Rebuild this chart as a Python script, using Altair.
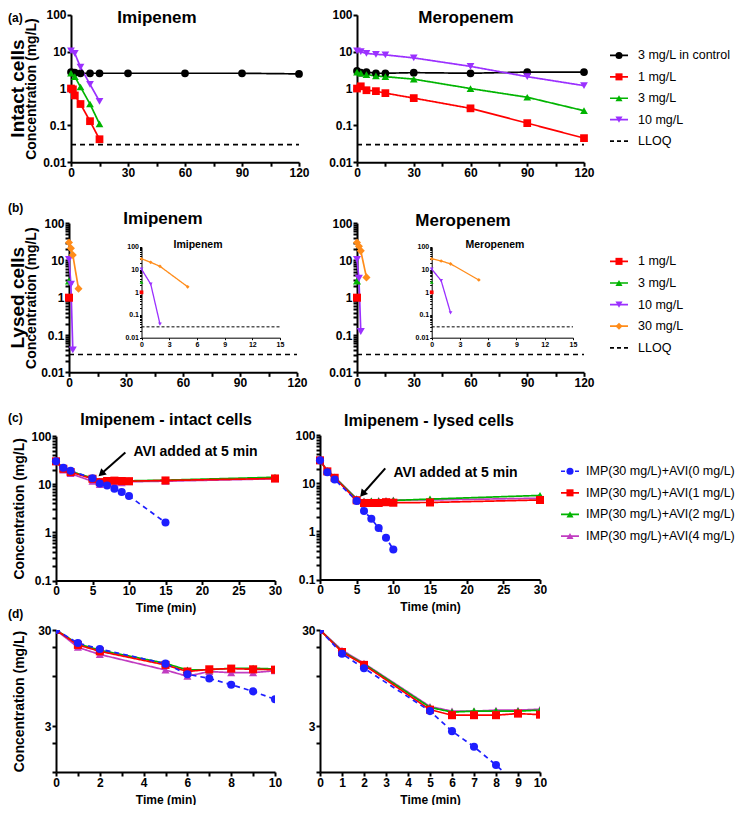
import altair as alt
import pandas as pd

FONT = "Liberation Sans"

# ---------------- (a) intact cells ----------------
A_IMP_CTRL_T = [0, 1, 2, 5, 10, 15, 30, 60, 90, 120]
A_IMP_CTRL_V = [2.8, 2.7, 2.7, 2.6, 2.6, 2.6, 2.6, 2.6, 2.6, 2.5]
A_IMP_1_T = [0, 1, 2, 5, 10, 15]
A_IMP_1_V = [1.0, 0.95, 0.65, 0.38, 0.13, 0.042]
A_IMP_3_T = [0, 2, 5, 10, 15]
A_IMP_3_V = [2.6, 2.1, 1.1, 0.38, 0.11]
A_IMP_10_T = [0, 2, 5, 10, 15]
A_IMP_10_V = [10.5, 9.0, 3.8, 1.3, 0.45]

A_MER_T = [0, 2, 5, 10, 15, 30, 60, 90, 120]
A_MER_CTRL_V = [3.0, 2.7, 2.8, 2.6, 2.6, 2.7, 2.6, 2.8, 2.8]
A_MER_1_V = [1.0, 1.15, 0.9, 0.85, 0.75, 0.55, 0.29, 0.115, 0.045]
A_MER_3_V = [2.8, 2.6, 2.4, 2.2, 2.1, 1.8, 1.0, 0.58, 0.25]
A_MER_10_V = [10.5, 10.0, 9.0, 8.5, 8.2, 6.8, 4.0, 2.1, 1.2]

# ---------------- (b) lysed cells ----------------
B_IMP_1_T, B_IMP_1_V = [0], [1.0]
B_IMP_3_T, B_IMP_3_V = [0], [2.8]
B_IMP_10_T, B_IMP_10_V = [0, 1, 2], [10.5, 2.3, 0.04]
B_IMP_30_T, B_IMP_30_V = [0, 1, 2, 5], [30.0, 21.0, 14.0, 1.75]
B_MER_1_T, B_MER_1_V = [0], [1.0]
B_MER_3_T, B_MER_3_V = [0], [2.8]
B_MER_10_T, B_MER_10_V = [0, 1, 2], [10.5, 3.3, 0.125]
B_MER_30_T, B_MER_30_V = [0, 1, 2, 5], [30.0, 24.0, 18.0, 3.5]

LLOQ = 0.03

# ---------------- (c)/(d) imipenem + avibactam ----------------
C_T = [0, 1, 2, 5, 6, 7, 8, 9, 10, 15, 30]
C_INT_AVI0_T = [0, 1, 2, 5, 6, 7, 8, 9, 10, 15]
C_INT_AVI0 = [30, 22, 19, 13.4, 10.4, 9.4, 8.1, 6.9, 5.7, 1.6]
C_INT_AVI1 = [30, 21, 18, 13, 11.1, 11.7, 11.9, 11.7, 11.6, 12.0, 13.2]
C_INT_AVI2 = [30, 21.5, 18.5, 13.5, 11.5, 11.6, 12.0, 12.0, 11.8, 12.2, 14.0]
C_INT_AVI4 = [30, 19.8, 16.7, 11.5, 9.9, 11.1, 10.8, 10.8, 11.3, 11.6, 13.0]

C_LYS_AVI0_T = [0, 1, 2, 5, 6, 7, 8, 9, 10]
C_LYS_AVI0 = [30, 17, 12, 4.3, 2.66, 1.83, 1.18, 0.74, 0.42]
C_LYS_AVI1 = [30, 17.7, 13, 4.45, 3.9, 3.9, 3.9, 4.05, 3.95, 4.0, 4.5]
C_LYS_AVI2 = [30, 18, 13.3, 4.7, 4.2, 4.3, 4.3, 4.3, 4.4, 4.7, 5.6]
C_LYS_AVI4 = [30, 18.5, 13.5, 4.8, 4.3, 4.3, 4.4, 4.4, 4.5, 4.5, 4.9]

# annotation arrows: tail t, tail v, tip t, tip v
C_ARROW_INT = [9.5, 46.0, 6.2, 16.5]
C_ARROW_LYS = [8.9, 20.4, 5.8, 6.0]

A_NAMES = ["3 mg/L in control", "1 mg/L", "3 mg/L", "10 mg/L"]
B_NAMES = ["1 mg/L", "3 mg/L", "10 mg/L", "30 mg/L"]
C_NAMES = ["IMP(30 mg/L)+AVI(0 mg/L)", "IMP(30 mg/L)+AVI(1 mg/L)",
           "IMP(30 mg/L)+AVI(2 mg/L)", "IMP(30 mg/L)+AVI(4 mg/L)"]

# ---------------- styles ----------------
BLACK, RED, GREEN, VIOLET = "#000000", "#FF0000", "#00B400", "#9B30FF"
ORANGE, BLUE, MAGENTA = "#FF8C1A", "#1E1EFF", "#C13CC1"
SOLID, DASH = [1, 0], [5, 4]

A_COLORS = [BLACK, RED, GREEN, VIOLET]
A_SHAPES = ["circle", "square", "triangle-up", "triangle-down"]
B_COLORS = [RED, GREEN, VIOLET, ORANGE]
B_SHAPES = ["square", "triangle-up", "triangle-down", "diamond"]
C_COLORS = [BLUE, RED, GREEN, MAGENTA]
C_SHAPES = ["circle", "square", "triangle-up", "triangle-up"]
C_DASHES = [DASH, SOLID, SOLID, SOLID]

AX = dict(domainColor="black", domainWidth=2, tickColor="black", tickWidth=2, tickSize=4,
          labelFont=FONT, labelFontSize=12, labelFontWeight="bold", labelColor="black",
          labelPadding=1, labelFlush=False, labelOverlap=False, grid=False,
          titleFont=FONT, titleFontSize=14, titleFontWeight="bold", titleColor="black")
AX_SMALL = dict(domainColor="black", domainWidth=1, tickColor="black", tickWidth=1, tickSize=2,
                labelFont=FONT, labelFontSize=7, labelFontWeight="bold", labelColor="black",
                labelPadding=1, labelFlush=False, labelOverlap=False, grid=False)

# top canvas (rows a-c); layout positions are written in figure pixels and mapped here
W_TOP, H_TOP = 731, 614
KY = 0.982


def CX(x):
    return x - 8


def CY(y):
    return (y - 6) * KY


def long_df(series):
    rows = []
    for name, ts, vs in series:
        for t, v in zip(ts, vs):
            rows.append({"series": name, "t": t, "v": v})
    return pd.DataFrame(rows)


def log_ticks(lo_exp, hi_exp, top):
    vals = []
    for e in range(lo_exp, hi_exp + 1):
        for m in range(1, 10):
            v = round(m * 10 ** e, 6)
            if v <= top:
                vals.append(v)
    return vals


def axis(values, shown=None, title=None, base=AX, **kw):
    opts = dict(base)
    opts.update(kw)
    f = "format(datum.value, '~g')"
    if shown is not None:
        lst = ",".join("'%s'" % s for s in shown)
        opts["labelExpr"] = "indexof([%s], %s) >= 0 ? %s : ''" % (lst, f, f)
    else:
        opts["labelExpr"] = f
    return alt.Axis(values=values, title=title, **opts)


def data_layers(df, names, colors, shapes, dashes, xs, ys, xax, yax, size, stroke=1.7, clip=False):
    X = alt.X("t:Q", scale=xs, axis=xax)
    Y = alt.Y("v:Q", scale=ys, axis=yax)
    col = alt.Color("series:N", scale=alt.Scale(domain=names, range=colors), legend=None)
    lines = alt.Chart(df).mark_line(strokeWidth=stroke, clip=clip).encode(
        x=X, y=Y, color=col,
        strokeDash=alt.StrokeDash("series:N", scale=alt.Scale(domain=names, range=dashes), legend=None),
        order=alt.Order("t:Q"))
    pts = alt.Chart(df).mark_point(filled=True, opacity=1, size=size, clip=clip).encode(
        x=X, y=Y, color=col,
        shape=alt.Shape("series:N", scale=alt.Scale(domain=names, range=shapes), legend=None))
    return [lines, pts]


def lloq_rule(t_end, xs, ys, xax, yax, width=1.6, dash=(5, 4)):
    df = pd.DataFrame({"t": [0], "t_end": [t_end], "v": [LLOQ]})
    return alt.Chart(df).mark_rule(color="black", strokeWidth=width, strokeDash=list(dash)).encode(
        x=alt.X("t:Q", scale=xs, axis=xax), x2="t_end:Q", y=alt.Y("v:Q", scale=ys, axis=yax))


def label(text, x, y, size, weight="bold", angle=0, align="center"):
    return alt.Chart(pd.DataFrame({"s": [text]})).mark_text(
        font=FONT, fontSize=size, fontWeight=weight, angle=angle, align=align,
        baseline="middle", color="black").encode(x=alt.value(x), y=alt.value(y), text="s:N")


def tlabel(text, x, y, size, **kw):
    return label(text, CX(x), CY(y), size, **kw)


def arrow(spec, xs, ys, xax, yax, angle):
    df = pd.DataFrame({"t": [spec[0]], "v": [spec[1]], "t2": [spec[2]], "v2": [spec[3]]})
    X = alt.X("t:Q", scale=xs, axis=xax)
    Y = alt.Y("v:Q", scale=ys, axis=yax)
    shaft = alt.Chart(df).mark_rule(color="black", strokeWidth=2).encode(x=X, y=Y, x2="t2:Q", y2="v2:Q")
    head = alt.Chart(df).mark_point(shape="triangle-up", filled=True, opacity=1, size=70,
                                    color="black", angle=angle).encode(
        x=alt.X("t2:Q", scale=xs, axis=xax), y=alt.Y("v2:Q", scale=ys, axis=yax))
    return [shaft, head]


def place(xdom, ydom, xr, yr, xvals, yvals, xshown=None, yshown=None, ytitle=None, ytpad=4,
          xtitle=None, base=AX):
    """Scales + axes for a panel at figure pixels xr=(left,right), yr=(top,bottom)."""
    xs = alt.Scale(domain=xdom, nice=False, range=[CX(xr[0]), CX(xr[1])])
    ys = alt.Scale(type="log", domain=ydom, nice=False, range=[CY(yr[1]), CY(yr[0])])
    xkw = dict(orient="bottom", offset=-(H_TOP - CY(yr[1])))
    if xtitle:
        xkw.update(titleFontSize=12, titlePadding=6)
    xax = axis(xvals, shown=xshown, title=xtitle, base=base, **xkw)
    ykw = dict(orient="left", offset=-CX(xr[0]))
    if ytitle:
        ykw.update(titlePadding=ytpad)
    yax = axis(yvals, shown=yshown, title=ytitle, base=base, **ykw)
    return xs, ys, xax, yax


def legend(names, colors, shapes, dashes, ys_fig, sym_x, text_x, font_size, size, no_point=(), sym_w=18):
    items = list(names)
    df = pd.DataFrame({"label": items})
    Y = alt.Y("label:N", sort=items, axis=None,
              scale=alt.Scale(type="point", domain=items, range=[CY(ys_fig[0]), CY(ys_fig[1])], padding=0))
    col = alt.Color("label:N", scale=alt.Scale(domain=items, range=colors), legend=None)
    rule = alt.Chart(df).mark_rule(strokeWidth=1.7).encode(
        y=Y, x=alt.value(CX(sym_x)), x2=alt.value(CX(sym_x + sym_w)), color=col,
        strokeDash=alt.StrokeDash("label:N", scale=alt.Scale(domain=items, range=dashes), legend=None))
    pts = alt.Chart(df).transform_filter(
        alt.FieldOneOfPredicate(field="label", oneOf=[n for n in items if n not in no_point])
    ).mark_point(filled=True, opacity=1, size=size).encode(
        y=Y, x=alt.value(CX(sym_x + sym_w / 2)), color=col,
        shape=alt.Shape("label:N", scale=alt.Scale(domain=items, range=shapes), legend=None))
    txt = alt.Chart(df).mark_text(align="left", baseline="middle", font=FONT, fontSize=font_size,
                                  color="black").encode(y=Y, x=alt.value(CX(text_x)), text="label:N")
    return alt.layer(rule, pts, txt)


def spacer():
    return alt.Chart(pd.DataFrame({"s": [""]})).mark_text().encode(text="s:N").properties(width=1, height=1)


# ================= row (a) =================
A_X = list(range(0, 121, 15))
A_XSHOWN = ["0", "30", "60", "90", "120"]
DEC = [0.01, 0.1, 1, 10, 100]
A_DASHES = [SOLID] * 4

df_a_imp = long_df([(A_NAMES[0], A_IMP_CTRL_T, A_IMP_CTRL_V), (A_NAMES[1], A_IMP_1_T, A_IMP_1_V),
                    (A_NAMES[2], A_IMP_3_T, A_IMP_3_V), (A_NAMES[3], A_IMP_10_T, A_IMP_10_V)])
df_a_mer = long_df([(A_NAMES[0], A_MER_T, A_MER_CTRL_V), (A_NAMES[1], A_MER_T, A_MER_1_V),
                    (A_NAMES[2], A_MER_T, A_MER_3_V), (A_NAMES[3], A_MER_T, A_MER_10_V)])

g = place([0, 120], [0.01, 100], (71, 299), (12, 162), A_X, DEC, xshown=A_XSHOWN,
          ytitle="Concentration (mg/L)", ytpad=4)
p_a_left = alt.layer(lloq_rule(120, *g), *data_layers(df_a_imp, A_NAMES, A_COLORS, A_SHAPES, A_DASHES, *g, 60))
g = place([0, 120], [0.01, 100], (357, 584), (12, 162), A_X, DEC, xshown=A_XSHOWN)
p_a_right = alt.layer(lloq_rule(120, *g), *data_layers(df_a_mer, A_NAMES, A_COLORS, A_SHAPES, A_DASHES, *g, 60))
leg_a = legend(A_NAMES + ["LLOQ"], A_COLORS + [BLACK], A_SHAPES + ["circle"], A_DASHES + [[4, 3]],
               (53.3, 140.5), 610, 638, 12.5, 50, no_point=("LLOQ",))

# ================= row (b) =================
MINOR_B = log_ticks(-2, 2, 100)
DEC_LABELS = ["0.01", "0.1", "1", "10", "100"]

df_b_imp = long_df([(B_NAMES[0], B_IMP_1_T, B_IMP_1_V), (B_NAMES[1], B_IMP_3_T, B_IMP_3_V),
                    (B_NAMES[2], B_IMP_10_T, B_IMP_10_V), (B_NAMES[3], B_IMP_30_T, B_IMP_30_V)])
df_b_mer = long_df([(B_NAMES[0], B_MER_1_T, B_MER_1_V), (B_NAMES[1], B_MER_3_T, B_MER_3_V),
                    (B_NAMES[2], B_MER_10_T, B_MER_10_V), (B_NAMES[3], B_MER_30_T, B_MER_30_V)])
B_DASHES = [SOLID] * 4

g = place([0, 120], [0.01, 100], (69, 297), (224, 376), A_X, MINOR_B, xshown=A_XSHOWN, yshown=DEC_LABELS,
          ytitle="Concentration (mg/L)", ytpad=2)
p_b_left = alt.layer(lloq_rule(120, *g), *data_layers(df_b_imp, B_NAMES, B_COLORS, B_SHAPES, B_DASHES, *g, 65))
g = place([0, 120], [0.01, 100], (357, 584), (224, 376), A_X, MINOR_B, xshown=A_XSHOWN, yshown=DEC_LABELS)
p_b_right = alt.layer(lloq_rule(120, *g), *data_layers(df_b_mer, B_NAMES, B_COLORS, B_SHAPES, B_DASHES, *g, 65))

g = place([0, 15], [0.01, 100], (141.5, 280), (248.3, 340.7), [0, 3, 6, 9, 12, 15], MINOR_B,
          yshown=DEC_LABELS, base=AX_SMALL)
in_b_left = alt.layer(lloq_rule(15, *g, width=1, dash=(3, 2)),
                      *data_layers(df_b_imp, B_NAMES, B_COLORS, B_SHAPES, B_DASHES, *g, 14, stroke=1.3))
g = place([0, 15], [0.01, 100], (431.7, 573), (248.3, 340.7), [0, 3, 6, 9, 12, 15], MINOR_B,
          yshown=DEC_LABELS, base=AX_SMALL)
in_b_right = alt.layer(lloq_rule(15, *g, width=1, dash=(3, 2)),
                       *data_layers(df_b_mer, B_NAMES, B_COLORS, B_SHAPES, B_DASHES, *g, 14, stroke=1.3))
leg_b = legend(B_NAMES + ["LLOQ"], B_COLORS + [BLACK], B_SHAPES + ["circle"], B_DASHES + [[4, 3]],
               (263, 351), 610, 638, 12.5, 50, no_point=("LLOQ",))

# ================= row (c) =================
MINOR_C = log_ticks(-1, 2, 100)
DEC_C = ["0.1", "1", "10", "100"]
C_X = list(range(0, 31, 5))

df_c_int = long_df([(C_NAMES[3], C_T, C_INT_AVI4), (C_NAMES[2], C_T, C_INT_AVI2),
                    (C_NAMES[1], C_T, C_INT_AVI1), (C_NAMES[0], C_INT_AVI0_T, C_INT_AVI0)])
df_c_lys = long_df([(C_NAMES[3], C_T, C_LYS_AVI4), (C_NAMES[2], C_T, C_LYS_AVI2),
                    (C_NAMES[1], C_T, C_LYS_AVI1), (C_NAMES[0], C_LYS_AVI0_T, C_LYS_AVI0)])

g = place([0, 30], [0.1, 100], (56, 275), (441, 588), C_X, MINOR_C, yshown=DEC_C,
          ytitle="Concentration (mg/L)", ytpad=4, xtitle="Time (min)")
p_c_left = alt.layer(*data_layers(df_c_int, C_NAMES, C_COLORS, C_SHAPES, C_DASHES, *g, 65),
                     *arrow(C_ARROW_INT, *g, 229))
g = place([0, 30], [0.1, 100], (320, 540), (440, 587), C_X, MINOR_C, yshown=DEC_C, xtitle="Time (min)")
p_c_right = alt.layer(*data_layers(df_c_lys, C_NAMES, C_COLORS, C_SHAPES, C_DASHES, *g, 65),
                      *arrow(C_ARROW_LYS, *g, 220))
leg_c = legend(C_NAMES, C_COLORS, C_SHAPES, [[4, 3], SOLID, SOLID, SOLID],
               (476.7, 542.7), 561, 586, 12.5, 50)

texts = alt.layer(
    tlabel("(a)", 8, 15, 12, align="left"),
    tlabel("Intact cells", 17.5, 87, 19, angle=270),
    tlabel("Imipenem", 157, 15, 17),
    tlabel("Meropenem", 466, 15, 17),
    tlabel("(b)", 8, 209, 12, align="left"),
    tlabel("Lysed cells", 17.5, 300, 19, angle=270),
    tlabel("Imipenem", 163, 220, 17),
    tlabel("Meropenem", 463, 222, 17),
    tlabel("Imipenem", 198, 246, 10.5),
    tlabel("Meropenem", 495, 246.7, 10.5),
    tlabel("(c)", 8, 423, 12, align="left"),
    tlabel("Imipenem - intact cells", 166, 425, 16),
    tlabel("Imipenem - lysed cells", 429, 425.7, 16),
    tlabel("AVI added at 5 min", 195.5, 457, 14),
    tlabel("AVI added at 5 min", 455.5, 478, 14),
    tlabel("(d)", 8, 622, 12, align="left"),
)

top = alt.layer(
    p_a_left, p_a_right, leg_a,
    p_b_left, in_b_left, p_b_right, in_b_right, leg_b,
    p_c_left, p_c_right, leg_c,
    texts,
).resolve_scale(x="independent", y="independent", color="independent",
                shape="independent", strokeDash="independent").properties(width=W_TOP, height=H_TOP)

# ================= row (d) (own charts so the lines are clipped to the plot) =================
df_d_int = df_c_int[df_c_int["t"] <= 10]
df_d_lys = df_c_lys[df_c_lys["t"] <= 10]
H_D = 142
ys_d = alt.Scale(type="log", domain=[1, 30], nice=False)
xs_d = alt.Scale(domain=[0, 10], nice=False)
MINOR_D = [1, 2, 3, 10, 20, 30]
yax_d_l = axis(MINOR_D, shown=["3", "30"], title="Concentration (mg/L)", titlePadding=10.7)
yax_d_r = axis(MINOR_D, shown=["3", "30"])
xax_d_l = axis(list(range(0, 11)), shown=["0", "2", "4", "6", "8", "10"], title="Time (min)",
               titleFontSize=12, titlePadding=6)
xax_d_r = axis(list(range(0, 11)), title="Time (min)", titleFontSize=12, titlePadding=6)

d_left = alt.layer(
    *data_layers(df_d_int, C_NAMES, C_COLORS, C_SHAPES, C_DASHES, xs_d, ys_d, xax_d_l, yax_d_l, 65, clip=True),
    label(" ", -47, 70, 12, align="left"),
).properties(width=219, height=H_D)
d_right = alt.layer(
    *data_layers(df_d_lys, C_NAMES, C_COLORS, C_SHAPES, C_DASHES, xs_d, ys_d, xax_d_r, yax_d_r, 65, clip=True),
).properties(width=220, height=H_D)

row_d = alt.hconcat(spacer(), alt.hconcat(d_left, d_right, spacing=45, bounds="flush"), spacing=0)

chart = alt.vconcat(top, row_d, spacing=1).properties(padding=0) \
    .configure(font=FONT).configure_view(stroke=None)

chart.save("out.html", embed_options={"renderer": "svg", "actions": False})
